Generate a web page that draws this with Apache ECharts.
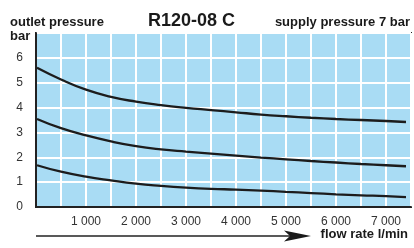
<!DOCTYPE html>
<html>
<head>
<meta charset="utf-8">
<script src="https://cdn.jsdelivr.net/npm/echarts@6/dist/echarts.min.js"></script>
<style>
  html, body { margin: 0; padding: 0; background: #fff; }
  #chart { width: 414px; height: 248px; }
</style>
</head>
<body>
<div id="chart"></div>
<script>
// flow rate l/min and the three outlet pressure curves (bar)
var flowRate = [20, 500, 1000, 1500, 2000, 2500, 3000, 3500, 4000, 4500, 5000, 5500, 6000, 6500, 7000, 7400];
var curveHigh = [5.6, 5.13, 4.72, 4.43, 4.24, 4.10, 3.99, 3.90, 3.81, 3.72, 3.65, 3.59, 3.54, 3.50, 3.46, 3.42];
var curveMid = [3.54, 3.17, 2.88, 2.64, 2.45, 2.32, 2.23, 2.15, 2.07, 1.99, 1.92, 1.85, 1.79, 1.73, 1.68, 1.64];
var curveLow = [1.68, 1.42, 1.22, 1.07, 0.94, 0.85, 0.78, 0.73, 0.70, 0.66, 0.61, 0.56, 0.51, 0.47, 0.44, 0.40];
var yTicks = [0, 1, 2, 3, 4, 5, 6];

function pairs(ys) {
    return flowRate.map(function (x, i) { return [x, ys[i]]; });
}

var FONT = '"Liberation Sans", Arial, sans-serif';
var myChart = echarts.init(document.getElementById('chart'));

var lineStyle = { color: '#1c1c1c', width: 2.3 };
var series = [curveHigh, curveMid, curveLow].map(function (ys) {
    return {
        type: 'line',
        data: pairs(ys),
        smooth: true,
        symbol: 'none',
        lineStyle: lineStyle,
        silent: true
    };
});

var option = {
    animation: false,
    grid: {
        left: 36, right: 3, top: 33, bottom: 41,
        show: true,
        backgroundColor: '#a9dcf4',
        borderColor: '#222',
        borderWidth: 2
    },
    xAxis: {
        type: 'value',
        min: 0, max: 7500, interval: 500,
        axisLine: { show: true, lineStyle: { color: '#222', width: 2 } },
        axisTick: { show: false },
        splitLine: { show: true, lineStyle: { color: '#fff', width: 2 } },
        axisLabel: {
            color: '#333', fontSize: 12, fontFamily: FONT, margin: 9,
            formatter: function (v) {
                if (v === 0 || v % 1000 !== 0) return '';
                return Math.floor(v / 1000) + ' 000';
            }
        }
    },
    yAxis: {
        type: 'value',
        min: 0, max: 7, interval: 1,
        axisLine: { show: true, lineStyle: { color: '#222', width: 2 } },
        axisTick: { show: false },
        splitLine: { show: true, lineStyle: { color: '#fff', width: 2 } },
        axisLabel: {
            color: '#333', fontSize: 12, fontFamily: FONT, margin: 13,
            formatter: function (v) { return yTicks.indexOf(v) >= 0 ? String(v) : ''; }
        }
    },
    graphic: [
        { type: 'text', left: 148, top: 12, style: { text: 'R120-08 C', font: 'bold 18px ' + FONT, fill: '#1a1a1a' } },
        { type: 'text', left: 10, top: 16, style: { text: 'outlet pressure', font: 'bold 13px ' + FONT, fill: '#1a1a1a' } },
        { type: 'text', left: 10, top: 30, style: { text: 'bar', font: 'bold 13px ' + FONT, fill: '#1a1a1a' } },
        { type: 'text', right: 4, top: 16, style: { text: 'supply pressure 7 bar', font: 'bold 13px ' + FONT, fill: '#1a1a1a' } },
        { type: 'text', right: 6, top: 228, style: { text: 'flow rate l/min', font: 'bold 13px ' + FONT, fill: '#1a1a1a' } },
        { type: 'line', shape: { x1: 36, y1: 236, x2: 292, y2: 236 }, style: { stroke: '#222', lineWidth: 1.5 } },
        { type: 'polygon', shape: { points: [[284, 230.5], [311, 236], [284, 241.5], [290, 236]] }, style: { fill: '#1a1a1a' } }
    ],
    series: series
};

myChart.setOption(option);
</script>
</body>
</html>
